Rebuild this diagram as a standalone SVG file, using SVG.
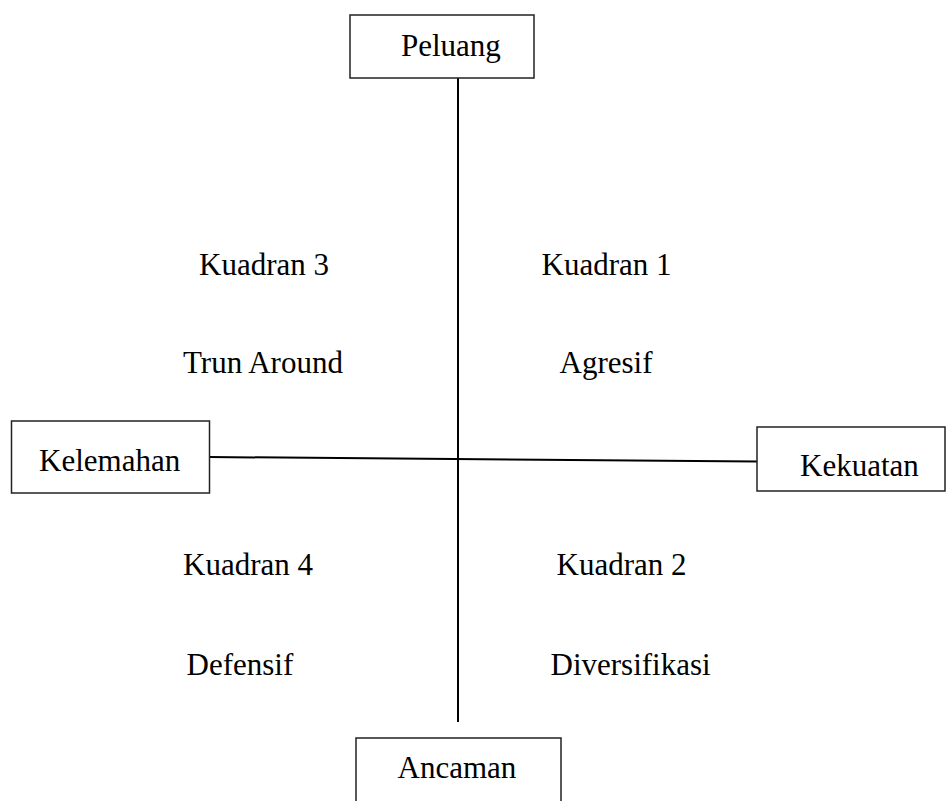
<svg xmlns="http://www.w3.org/2000/svg" width="947" height="801" viewBox="0 0 947 801">
<style>
.box{fill:#fff;stroke:#222;stroke-width:1.5}
.ln{stroke:#000;stroke-width:2;fill:none}
text{font-family:"Liberation Serif","Times New Roman",serif;font-size:31px;fill:#000}
</style>
<rect width="947" height="801" fill="#fff"/>
<g id="connectors">
<line class="ln" x1="458" y1="78" x2="458" y2="722"/>
<line class="ln" x1="209" y1="457" x2="757" y2="461.5"/>
</g>
<g id="peluang"><rect class="box" x="350" y="15" width="184" height="63"/><text x="401" y="56">Peluang</text></g>
<g id="kelemahan"><rect class="box" x="11.5" y="421" width="198" height="72"/><text x="39" y="471">Kelemahan</text></g>
<g id="kekuatan"><rect class="box" x="757" y="427" width="188" height="64"/><text x="800" y="476">Kekuatan</text></g>
<g id="ancaman"><rect class="box" x="356" y="738" width="205" height="80"/><text x="397.5" y="778">Ancaman</text></g>
<g id="q3"><text x="199" y="275">Kuadran 3</text><text x="183" y="373">Trun Around</text></g>
<g id="q1"><text x="541.5" y="275">Kuadran 1</text><text x="559.5" y="373">Agresif</text></g>
<g id="q4"><text x="183" y="575">Kuadran 4</text><text x="186.5" y="675">Defensif</text></g>
<g id="q2"><text x="556.5" y="575">Kuadran 2</text><text x="550.5" y="675">Diversifikasi</text></g>
</svg>
